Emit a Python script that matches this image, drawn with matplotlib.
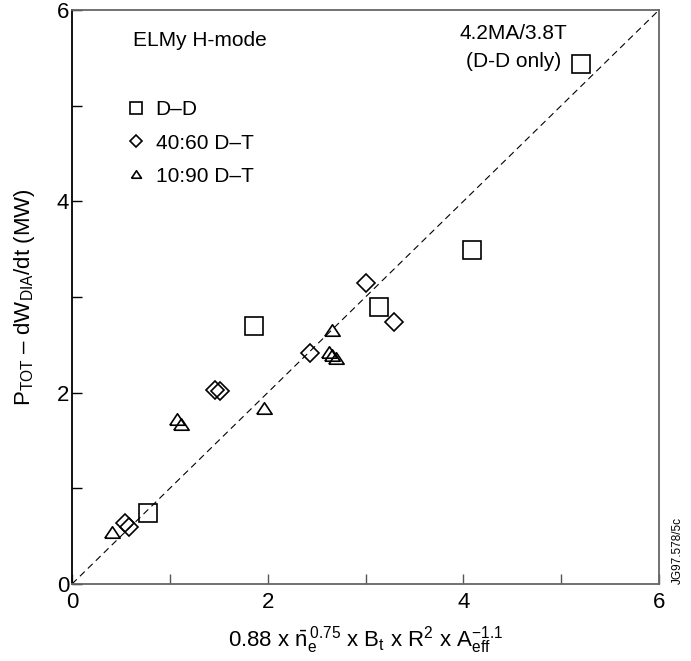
import matplotlib.pyplot as plt
import numpy as np

plt.rcParams['font.family'] = ['Liberation Sans Narrow', 'Liberation Sans', 'DejaVu Sans']
plt.rcParams['mathtext.fontset'] = 'custom'
plt.rcParams['mathtext.rm'] = 'Liberation Sans'
plt.rcParams['mathtext.it'] = 'Liberation Sans:italic'
plt.rcParams['mathtext.default'] = 'regular'

# D-D
dd_x = [0.78, 1.86, 3.14, 4.09, 5.20]
dd_y = [0.74, 2.70, 2.90, 3.49, 5.44]
# 40:60 D-T
dt40_x = [0.54, 0.58, 1.46, 1.51, 2.43, 3.00, 3.29]
dt40_y = [0.64, 0.60, 2.03, 2.02, 2.41, 3.15, 2.74]
# 10:90 D-T
dt10_x = [0.41, 1.07, 1.11, 1.96, 2.63, 2.66, 2.66, 2.70]
dt10_y = [0.54, 1.72, 1.67, 1.84, 2.43, 2.66, 2.39, 2.36]

# wide, flat open triangle
tri = [(-1, -0.75), (1, -0.75), (0, 0.75), (-1, -0.75)]

fig = plt.figure(figsize=(6.91, 6.61), dpi=100)
ax = fig.add_axes([72/691, 1-584/661, 587/691, 574/661])

ax.plot([0, 6], [0, 6], color='black', lw=0.8, ls=(0, (6, 4)))

ax.plot(dd_x, dd_y, ls='none', marker='s', ms=12.5, mfc='none', mec='black', mew=1.2, label='D–D')
ax.plot(dt40_x, dt40_y, ls='none', marker='D', ms=9, mfc='none', mec='black', mew=1.2, label='40:60 D–T')
ax.plot(dt10_x, dt10_y, ls='none', marker=tri, ms=11, mfc='none', mec='black', mew=1.2, label='10:90 D–T')

ax.set_xlim(0, 6)
ax.set_ylim(0, 6)
ax.set_xticks([0, 2, 4, 6])
ax.set_xticks([1, 3, 5], minor=True)
ax.set_yticks([0, 2, 4, 6])
ax.set_yticks([1, 3, 5], minor=True)
ax.tick_params(which='both', direction='in', length=7, width=1.0, labelsize=16)
ax.tick_params(axis='x', which='both', colors='#555555', labelcolor='black', pad=6)
ax.tick_params(axis='y', which='both', colors='black', pad=2)

for s in ['top', 'right', 'bottom']:
    ax.spines[s].set_color('#666666')
    ax.spines[s].set_linewidth(1.3)
ax.spines['left'].set_color('black')
ax.spines['left'].set_linewidth(1.3)

ax.set_xlabel(r'0.88 x $\bar{n}_e^{\,0.75}$ x B$_t$ x R$^2$ x A$_{eff}^{-1.1}$', fontsize=16, labelpad=8)
ax.set_ylabel(r'P$_{TOT}$ – dW$_{DIA}$/dt (MW)', fontsize=16, labelpad=14)

ax.text(0.218, 0.946, 'ELMy H-mode', transform=ax.transAxes, fontsize=15, ha='center', va='center')
ax.text(0.752, 0.934, '4.2MA/3.8T\n(D-D only)', transform=ax.transAxes, fontsize=15,
        ha='center', va='center', multialignment='center', linespacing=1.6)

ax.legend(loc='upper left', bbox_to_anchor=(0.077, 0.857), frameon=False, fontsize=15,
          markerscale=0.65, handlelength=1.0, handletextpad=0.45, labelspacing=0.68,
          borderaxespad=0)

fig.text(678/691, 1-551/661, 'JG97.578/5c', rotation=90, fontsize=8.5, ha='center', va='center')

fig.savefig('out.png', dpi=100)
